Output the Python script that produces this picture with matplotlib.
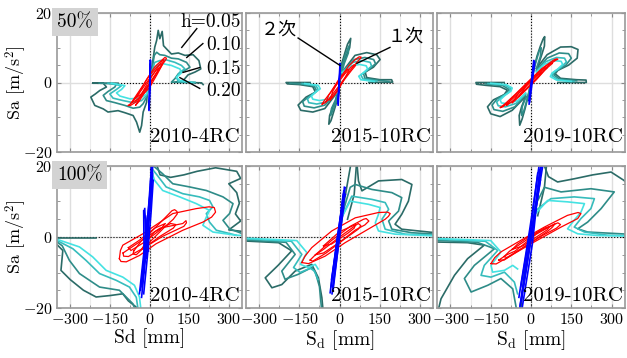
import matplotlib
matplotlib.use("Agg")
import matplotlib.pyplot as plt
from matplotlib.ticker import MultipleLocator

plt.rcParams['font.family'] = ['cmr10', 'Noto Sans CJK JP']
plt.rcParams['mathtext.fontset'] = 'cm'
plt.rcParams['axes.unicode_minus'] = False
plt.rcParams['axes.formatter.use_mathtext'] = True

# ---- data (Sd [mm], Sa [m/s2]) ----
years = ['2010-4RC', '2015-10RC', '2019-10RC']
levels = ['50%', '100%']
h_labels = ['h=0.05', '0.10', '0.15', '0.20']
zero_line_extent = [200, 350]   # dotted Sa=0 line, per row

# 50%, 2010-4RC
a1_h05 = [[(0, 0), (10, 4.9), (20, 10.2), (27, 12.1), (33, 15.0), (39, 12.6), (48, 14.7), (53, 10.6), (64, 9.7),
           (83, 8.2), (109, 8.5), (134, 7.8), (165, 8.0), (187, 6.3), (194, 3.9), (172, 3.0), (146, 2.2),
           (128, 0.6), (96, 0.1), (197, -0.1), (203, -0.6)],
          [(0, 0), (-8, -2.8), (-11, -5.7), (-24, -8.5), (-30, -12.4), (-37, -14.3), (-49, -11.4), (-62, -9.5),
           (-93, -8.7), (-119, -8.1), (-157, -8.5), (-175, -7.6), (-207, -6.6), (-222, -4.2), (-205, -3.3),
           (-188, -2.3), (-163, -1.3), (-175, -0.2), (-215, -0.2), (-119, -0.2)]]
a1_h10 = [[(0, 0), (10, 3.9), (18, 7.8), (27, 8.7), (39, 8.0), (58, 7.8), (83, 7.0), (109, 6.8), (140, 5.8),
           (153, 4.4), (134, 3.5), (109, 2.5), (96, 1.1), (83, 0.1), (172, 0.0)],
          [(0, 0), (-11, -4.2), (-24, -6.1), (-37, -7.1), (-62, -7.4), (-93, -6.6), (-131, -5.8), (-163, -5.2),
           (-175, -3.7), (-157, -2.6), (-131, -1.3), (-125, -0.4), (-190, -0.2)]]
a1_h15 = [[(0, 0), (10, 3.5), (20, 5.8), (39, 6.3), (64, 6.5), (96, 5.8), (121, 4.9), (134, 3.9), (115, 3.0),
           (102, 1.5), (109, 0.3), (172, 0.0)],
          [(0, 0), (-11, -3.7), (-30, -5.2), (-62, -5.8), (-100, -5.2), (-138, -4.5), (-150, -3.3), (-125, -2.0),
           (-106, -0.9), (-157, -0.2)]]
a1_h20 = [[(0, 0), (10, 3.0), (27, 4.9), (52, 5.4), (83, 4.9), (115, 3.9), (121, 2.8), (102, 1.5), (115, 0.6),
           (160, 0.0)],
          [(0, 0), (-11, -3.3), (-37, -4.5), (-74, -4.7), (-112, -3.9), (-125, -3.0), (-106, -2.0), (-93, -0.9),
           (-144, -0.2)]]
a1_red = [[(-80, -6.6), (-72, -6.6), (-55, -5.8), (-30, -3.5), (0, -0.5), (30, 3), (50, 5.3), (62, 6.6),
           (64, 7.0), (58, 7.2), (45, 6.3), (20, 4.5), (-10, 1), (-40, -3), (-62, -5.3), (-76, -6.4), (-80, -6.6)],
          [(-68, -5.8), (-55, -5.3), (-35, -4.3), (0, -1.5), (30, 2.5), (44, 4.5), (48, 5.1), (42, 5.4), (30, 4.6),
           (0, 2), (-35, -2), (-58, -4.6), (-68, -5.8)],
          [(-52, -6.5), (-40, -5.5), (-20, -3.0), (10, 0.5), (40, 4.5), (52, 6.0), (55, 6.6), (48, 6.3),
           (30, 4.2), (0, 0.8), (-30, -3.3), (-46, -5.6), (-52, -6.5)],
          [(-60, -5.0), (-30, -3.2), (0, -0.2), (30, 3.2), (38, 4.3), (25, 3.5), (-5, 0.6), (-40, -3.2), (-60, -5.0)]]
a1_blue = [[(-2, -8.0), (4, 6.0), (3, 6.5), (-1, -7.5)]]

# 50%, 2015-10RC
a2_h05 = [[(0, 0), (8, 5.4), (20, 8.5), (30, 11), (42, 12.7), (38, 10), (27, 8), (14, 5.9), (5, 2)],
          [(10, 3), (58, 7.8), (102, 8.6), (139, 8.0), (152, 6.6), (127, 4.4), (96, 3.0), (102, 1.4), (152, 0.8),
           (195, 0.8), (199, 0.1), (110, 0.0)],
          [(0, 0), (-8, -5), (-20, -8), (-32, -11), (-40, -12), (-37, -9.5), (-25, -7), (-12, -5), (-5, -2)],
          [(-10, -3), (-55, -7.5), (-100, -8.5), (-145, -8), (-155, -6.5), (-125, -4.2), (-90, -2.8), (-100, -1.2),
           (-150, -0.6), (-195, -0.4), (-200, 0), (-110, 0)]]
a2_h10 = [[(0, 0), (8, 4.5), (22, 8), (35, 10.5), (33, 8.5), (18, 5.5), (5, 2)],
          [(10, 3), (55, 6.6), (95, 7.2), (128, 6.6), (135, 5.4), (110, 3.8), (90, 2.6), (95, 1.2), (150, 0.6),
           (185, 0.3)],
          [(0, 0), (-8, -4.5), (-22, -7.5), (-33, -9.5), (-30, -7.5), (-15, -5), (-5, -2)],
          [(-10, -3), (-55, -6.5), (-95, -7.3), (-132, -6.8), (-138, -5.5), (-110, -3.8), (-85, -2.5),
           (-95, -1.0), (-150, -0.4), (-185, -0.2)]]
a2_h15 = [[(10, 3), (50, 5.8), (85, 6.3), (115, 5.8), (120, 4.7), (98, 3.2), (80, 2.2), (88, 1.0), (140, 0.4)],
          [(-10, -3), (-50, -5.6), (-85, -6.2), (-115, -5.8), (-120, -4.7), (-97, -3.2), (-80, -2.0), (-88, -0.9),
           (-140, -0.3)]]
a2_h20 = [[(10, 2.8), (45, 4.8), (75, 5.2), (100, 4.8), (105, 3.9), (88, 2.7), (72, 1.8), (80, 0.8), (130, 0.3)],
          [(-10, -2.8), (-45, -4.8), (-75, -5.2), (-100, -4.8), (-105, -3.9), (-88, -2.7), (-72, -1.8),
           (-80, -0.8), (-130, -0.3)]]
a2_red = [[(-65, -6.2), (-55, -5.9), (-40, -4.8), (0, -0.8), (40, 3.5), (65, 5.8), (78, 6.9), (81, 7.3),
           (74, 7.4), (62, 6.8), (35, 4.8), (0, 1.2), (-35, -3.0), (-55, -5.0), (-65, -6.2)],
          [(-50, -5.5), (-38, -4.8), (-20, -3.5), (15, 0.5), (45, 3.5), (56, 4.5), (60, 4.9), (54, 5.1), (42, 4.3),
           (20, 2.5), (-15, -1.0), (-40, -3.6), (-50, -5.5)],
          [(-35, -5.0), (-25, -4.2), (-10, -2.8), (20, 1.2), (32, 3.0), (35, 3.8), (28, 3.7), (18, 2.6), (0, 1.0),
           (-25, -2.5), (-35, -5.0)]]
a2_blue = [[(-5, -6.5), (3, 5.2), (2, 5.5), (-6, -6.0)]]

# 50%, 2019-10RC
a3_h05 = [[(0, 0), (8, 3), (22, 7.5), (35, 10.5), (45, 12.5), (51, 13.2), (50, 10.5), (40, 8), (25, 4.5)],
          [(20, 4), (60, 8), (110, 10.2), (150, 10.3), (175, 9.5), (172, 7.0), (140, 5.0), (100, 3.5), (90, 2.5),
           (110, 1.2), (170, 0.8), (205, 0.7), (206, 0.0), (100, 0)],
          [(0, 0), (-8, -3), (-22, -7.5), (-33, -10.5), (-42, -12.3), (-44, -9.5), (-35, -7), (-20, -4)],
          [(-20, -4), (-70, -8), (-115, -9.8), (-150, -9.0), (-162, -7.0), (-140, -5), (-100, -3.5), (-88, -2.2),
           (-115, -1.2), (-170, -0.8), (-203, -0.5), (-205, 0), (-100, 0)]]
a3_h10 = [[(0, 0), (15, 5), (30, 9), (38, 10), (35, 7.5), (20, 4)],
          [(20, 3.5), (60, 7), (105, 8.5), (140, 8.3), (150, 7.0), (130, 5), (95, 3.3), (85, 2.2), (105, 1.0),
           (170, 0.5)],
          [(0, 0), (-15, -5), (-28, -8.5), (-35, -9.5), (-33, -7), (-18, -4)],
          [(-20, -3.5), (-60, -7), (-105, -8.3), (-138, -7.8), (-145, -6.5), (-125, -4.6), (-92, -3.2),
           (-82, -2.0), (-105, -0.9), (-170, -0.4)]]
a3_h15 = [[(20, 3.2), (55, 6), (95, 7.2), (125, 7.0), (132, 5.9), (112, 4.4), (85, 3.0), (78, 2.0), (100, 0.8),
           (160, 0.3)],
          [(-20, -3.2), (-55, -6), (-95, -7.0), (-122, -6.7), (-128, -5.6), (-108, -4.1), (-82, -2.8), (-75, -1.8),
           (-98, -0.7), (-160, -0.3)]]
a3_h20 = [[(20, 3), (50, 5.2), (85, 6.3), (112, 6.1), (118, 5.2), (100, 3.9), (78, 2.7), (72, 1.7), (95, 0.7),
           (150, 0.3)],
          [(-20, -3), (-50, -5.2), (-85, -6.1), (-110, -5.9), (-115, -5.0), (-97, -3.7), (-75, -2.5), (-70, -1.6),
           (-92, -0.6), (-150, -0.2)]]
a3_red = [[(-114, -7.2), (-105, -7.0), (-80, -5.5), (-30, -2), (20, 1.8), (70, 5.2), (92, 6.4), (100, 6.7),
           (95, 6.8), (85, 6.5), (40, 4), (-10, 0.3), (-60, -3.5), (-95, -6.0), (-114, -7.2)],
          [(-90, -6.5), (-80, -6.0), (-50, -4.2), (0, -0.5), (50, 3.5), (75, 5.2), (80, 5.5), (72, 5.5), (60, 5.0),
           (15, 2), (-35, -1.8), (-75, -4.8), (-90, -6.5)],
          [(-70, -5.8), (-60, -5.2), (-30, -3), (20, 0.8), (52, 3.6), (60, 4.2), (52, 4.2), (40, 3.6), (0, 0.8),
           (-45, -3.0), (-70, -5.8)],
          [(-45, -4.0), (-10, -1.2), (30, 2.0), (40, 2.8), (25, 2.3), (-15, -0.6), (-45, -4.0)]]
a3_blue = [[(-5, -5.6), (14, 5.7), (12, 6.2), (-8, -5.2)], [(-7, -6.2), (10, 6.3)]]

# 100%, 2010-4RC
b1_h05 = [[(20, 22), (40, 17.5), (80, 16.8), (130, 17.5), (180, 18.5), (250, 19.5), (330, 18.5), (345, 16.5),
           (300, 15.0), (330, 12.5), (340, 9.5), (325, 6.5), (345, 4.5), (300, 2.0), (360, 1.5)],
          [(-360, -1.4), (-328, -3.8), (-335, -9.4), (-300, -12), (-250, -15), (-202, -16.9), (-150, -16.5),
           (-101, -16), (-80, -18), (-51, -19.7), (-45, -22)],
          [(-360, -0.3), (-202, -0.3)]]
b1_h10 = [[(15, 20), (50, 17.8), (88, 15), (152, 14.1), (215, 13.1), (278, 11.3), (316, 9.4), (303, 6.6),
           (278, 4.7), (303, 2.3), (353, 0.9)],
          [(-360, -0.8), (-330, -2.5), (-303, -6.6), (-265, -10.3), (-189, -14.1), (-114, -15), (-63, -18.8),
           (-45, -22)]]
b1_h15 = [[(12, 19), (25, 17.8), (63, 14.1), (126, 12.2), (189, 11.3), (227, 10.3), (240, 8.5), (215, 6.6),
           (227, 4.2), (253, 1.9), (328, 0.5)],
          [(-360, -0.6), (-290, -3.3), (-240, -6.6), (-189, -10.3), (-126, -12.2), (-76, -14.1), (-50, -17),
           (-40, -22)]]
b1_h20 = [[(10, 18), (19, 16), (50, 13.1), (114, 11.3), (177, 9.4), (227, 7.5), (215, 5.6), (202, 3.3),
           (240, 1.4), (328, 0.5), (360, 0.4)],
          [(-360, -0.4), (-265, -2.8), (-215, -5.6), (-164, -9.4), (-101, -11.3), (-57, -13.6), (-38, -16.9),
           (-30, -22)]]
b1_red = [[(-114, -6.1), (-110, -3.8), (-101, -2.3), (-25, 0.9), (88, 6.6), (177, 8.0), (225, 8.5), (245, 8.3),
           (250, 7.0), (235, 5.6), (202, 4.2), (126, 1.9), (25, -1.9), (-38, -5.2), (-88, -7.0), (-108, -6.9),
           (-114, -6.1)],
          [(-60, -4.0), (-30, -1.0), (0, 1.0), (60, 5.5), (85, 7.4), (95, 7.7), (104, 7.2), (105, 6.5), (90, 5.0),
           (60, 3), (0, -1.5), (-50, -5.0), (-62, -4.8), (-60, -4.0)],
          [(-100, -4.5), (-70, -3.0), (-40, -1.5), (40, 2.5), (126, 3.8), (138, 4.6), (140, 4.0), (130, 3.0),
           (50, 0.2), (-20, -3), (-80, -5.5), (-98, -5.4), (-100, -4.5)],
          [(-30, -3.5), (-10, -1.0), (20, 1.5), (80, 3.8), (100, 3.5), (90, 2.5), (40, 0.2), (0, -2.0),
           (-30, -3.5)],
          [(-80, -3.0), (-40, -1.0), (20, 2.5), (60, 3.8), (40, 2.0), (-20, -1.5), (-70, -3.8), (-80, -3.0)]]
b1_blue = [[(-38, -16), (-15, 0), (2, 12), (15, 22)], [(-30, -17), (-10, -2), (5, 10), (10, 22)],
           [(-25, -12), (-8, 2), (8, 14), (12, 18)], [(-20, -10), (-22, 7.5), (-14, 5), (-12, -3)],
           [(-28, -14), (-5, 4), (0, 10), (8, 21)], [(-34, -15), (-18, -4), (-6, 6), (4, 16), (12, 22)],
           [(-22, -16), (-6, -4), (6, 7), (14, 16)], [(-18, 8), (-12, -6), (-8, 6), (-4, -4)]]

# 100%, 2015-10RC
b2_h05 = [[(0, 0), (20, 11), (46, 22)], [(65, 22), (55, 12), (30, 5)],
          [(65, 21), (71, 15.8), (84, 13), (146, 15.8), (233, 16.2), (271, 14.8), (258, 10.1), (233, 6.4),
           (208, 3.6), (233, 2.2), (296, 1.7), (360, 1.2)],
          [(-360, -1.1), (-228, -1.6), (-179, -3.9), (-230, -8), (-278, -11.5), (-253, -14.3), (-216, -13.4),
           (-166, -9.6), (-104, -7.7), (-79, -11.5), (-66, -17.1), (-60, -22)]]
b2_h10 = [[(5, 5), (40, 14), (59, 14.8), (121, 13.4), (196, 12.5), (233, 11.1), (221, 7.3), (184, 4.5),
           (196, 2.2), (271, 1.2), (360, 0.8)],
          [(-360, -0.8), (-200, -1.5), (-166, -4.9), (-216, -9.6), (-204, -11.9), (-154, -10.5), (-104, -8.6),
           (-90, -10), (-75, -14), (-65, -22)]]
b2_h15 = [[(5, 5), (46, 11.5), (121, 10.6), (171, 9.7), (184, 7.8), (159, 5.0), (171, 2.2), (246, 0.8),
           (360, 0.5)],
          [(-360, -0.5), (-180, -1.2), (-141, -4.9), (-172, -8.6), (-147, -10), (-110, -8.8), (-95, -9.5),
           (-80, -12)]]
b2_h20 = [[(5, 5), (40, 10.1), (109, 9.2), (152, 8.3), (146, 6.4), (134, 4.0), (146, 1.7), (208, 0.8),
           (360, 0.3)],
          [(-360, -0.3), (-160, -1), (-122, -4.4), (-147, -7.7), (-116, -8.6), (-91, -7.7), (-80, -9)]]
b2_red = [[(-141, -7.2), (-130, -5.5), (-104, -3.0), (-29, 1.7), (59, 5.4), (146, 6.9), (180, 7.0), (190, 6.6),
           (183, 5.8), (171, 5.0), (96, 1.7), (21, -1.6), (-54, -5.4), (-116, -7.5), (-141, -7.2)],
          [(-90, -5), (-60, -3), (-30, -1), (40, 3), (90, 5.0), (100, 5.2), (110, 4.5), (95, 3.4), (60, 2),
           (0, -1.5), (-60, -4.5), (-90, -5)],
          [(-110, -6.5), (-90, -5.0), (-60, -3.5), (0, 0), (70, 3.8), (80, 3.2), (70, 2.2), (20, -0.5),
           (-50, -4.5), (-100, -6.8), (-110, -6.5)],
          [(-60, -2.5), (-30, -0.5), (0, 1.5), (60, 3.5), (55, 2.5), (30, 1.0), (-30, -2.0), (-60, -2.5)]]
b2_blue = [[(-35, -15.7), (-10, -1), (10, 9), (21, 13.9)], [(-28, -16), (-5, -3), (15, 8), (18, 14)],
           [(-30, -12), (0, 3), (14, 12)], [(-25, -14), (5, 6), (20, 12)],
           [(-32, -14), (-14, -4), (4, 6), (16, 13)], [(-24, -15), (-2, -1), (12, 10), (22, 12)]]

# 100%, 2019-10RC
b3_h05 = [[(0, 0), (20, 10), (40, 22)], [(60, 22), (50, 14), (25, 6)],
          [(40, 22), (65, 17), (99, 15.5), (161, 16.4), (230, 17.5), (298, 18.3), (345, 16), (360, 15)],
          [(-360, -1.4), (-236, -1.6), (-174, -2.3), (-236, -6.1), (-285, -10.8), (-335, -17.4), (-350, -22)],
          [(-40, -22), (-25, -10), (0, 0)]]
b3_h10 = [[(10, 8), (50, 14), (112, 12.7), (223, 13.6), (310, 12.7), (261, 8.0), (211, 4.2), (174, 2.3),
           (211, 1.4), (335, 0.9), (360, 0.8)],
          [(-360, -0.9), (-200, -1.5), (-136, -3.3), (-211, -8.0), (-248, -11.7), (-223, -15.5), (-161, -13.6),
           (-112, -11.7), (-68, -14.6), (-50, -22)]]
b3_h15 = [[(10, 7), (74, 10.8), (161, 11.3), (236, 10.8), (223, 8.0), (186, 5.2), (161, 2.8), (199, 1.4),
           (285, 0.5), (360, 0.4)],
          [(-360, -0.6), (-170, -1.2), (-124, -3.8), (-174, -8.0), (-186, -10.8), (-149, -11.3), (-99, -9.9),
           (-62, -12.7), (-50, -16)]]
b3_h20 = [[(10, 6), (62, 10.3), (136, 9.9), (199, 9.4), (186, 7.0), (155, 4.2), (136, 2.3), (174, 0.9),
           (250, 0.4), (360, 0.3)],
          [(-360, -0.4), (-150, -1), (-112, -4.2), (-149, -8.0), (-143, -9.9), (-99, -9.4), (-68, -8.0),
           (-50, -9)]]
b3_red = [[(-149, -7.5), (-135, -5.8), (-112, -4.2), (-37, -0.9), (50, 2.8), (136, 6.1), (175, 6.9), (186, 6.6),
           (180, 5.9), (174, 5.2), (112, 2.8), (12, -1.4), (-74, -5.2), (-130, -7.6), (-149, -7.5)],
          [(-100, -5.5), (-80, -4.0), (-40, -2), (30, 1.5), (100, 4), (110, 3.5), (95, 2.5), (40, 0.3), (-30, -3),
           (-90, -5.8), (-100, -5.5)],
          [(-70, -3.5), (-50, -2.0), (-20, -0.5), (50, 2.5), (70, 3.0), (60, 2.0), (30, 0.5), (-30, -2.5),
           (-70, -3.5)],
          [(-120, -6.5), (-90, -5.0), (-60, -4), (20, 0.8), (90, 3.8), (80, 2.8), (60, 1.5), (-20, -2.5),
           (-100, -6.5), (-120, -6.5)]]
b3_blue = [[(-40, -19.2), (0, 0), (43, 19.7)], [(-33, -20), (5, -2), (38, 21)], [(-45, -17), (-5, 2), (30, 20)],
           [(-30, -15), (10, 4), (35, 16)], [(-38, -14), (0, 3), (25, 18)],
           [(-36, -18), (-10, -5), (20, 9), (40, 21)], [(-42, -20), (-15, -6), (15, 8), (33, 19)]]

panels = [
    [(a1_h05, a1_h10, a1_h15, a1_h20, a1_red, a1_blue),
     (a2_h05, a2_h10, a2_h15, a2_h20, a2_red, a2_blue),
     (a3_h05, a3_h10, a3_h15, a3_h20, a3_red, a3_blue)],
    [(b1_h05, b1_h10, b1_h15, b1_h20, b1_red, b1_blue),
     (b2_h05, b2_h10, b2_h15, b2_h20, b2_red, b2_blue),
     (b3_h05, b3_h10, b3_h15, b3_h20, b3_red, b3_blue)],
]

h_colors = ['#2b6b67', '#2e8c88', '#36bcbc', '#45e2e2']


def draw(ax, segs, color, lw):
    for s in segs:
        xs = [p[0] for p in s]
        ys = [p[1] for p in s]
        ax.plot(xs, ys, color=color, lw=lw, solid_joinstyle='round')


fig = plt.figure(figsize=(6.27, 3.58), dpi=100)

col_left = [57, 246, 437]
col_right = [242, 433, 625]
row_top = [13, 166]
row_bot = [152, 308]
W, H = 627.0, 358.0

axes = []
for r in range(2):
    row = []
    for c in range(3):
        ax = fig.add_axes([col_left[c] / W, 1 - row_bot[r] / H,
                           (col_right[c] - col_left[c]) / W, (row_bot[r] - row_top[r]) / H])
        ax.set_xlim(-350, 350)
        ax.set_ylim(-20, 20)
        ax.xaxis.set_major_locator(MultipleLocator(150))
        ax.xaxis.set_minor_locator(MultipleLocator(75))
        ax.yaxis.set_major_locator(MultipleLocator(20))
        ax.yaxis.set_minor_locator(MultipleLocator(5))
        ax.grid(which='major', color='#dedede', lw=1.0)
        ax.grid(which='minor', axis='x', color='#ececec', lw=0.8)
        ax.set_axisbelow(True)
        ax.tick_params(which='both', direction='in', top=True, right=True, color='#888888', labelsize=11.5, pad=3)
        ax.tick_params(which='major', length=3)
        ax.tick_params(which='minor', length=2)
        for sp in ax.spines.values():
            sp.set_color('#999999')
            sp.set_linewidth(1.2)

        ext = zero_line_extent[r]
        ax.plot([-ext, ext], [0, 0], color='k', ls=':', lw=0.8, zorder=1.5)
        ax.axvline(0, color='k', ls=':', lw=0.8, zorder=1.5)

        curves = panels[r][c]
        for k in range(4):
            draw(ax, curves[k], h_colors[k], 1.2)
        draw(ax, curves[4], 'red', 0.9)
        draw(ax, curves[5], 'blue', 1.2)

        ax.text(343, -15.8 if r == 0 else -16.6, years[c], ha='right', va='center', fontsize=15)

        if c == 0:
            ax.set_ylabel('Sa [m/s$^2$]', fontsize=13)
            ax.yaxis.set_label_coords(-0.15, 0.5)
            ax.text(0.0, 1.0, levels[r], transform=ax.transAxes, ha='left', va='top', fontsize=14,
                    bbox=dict(boxstyle='square,pad=0.25', fc='#d3d3d3', ec='none'))
        else:
            ax.set_yticklabels([])
        if r == 0:
            ax.set_xticklabels([])
        else:
            ax.set_xlabel('Sd [mm]' if c == 0 else r'S$_\mathrm{d}$ [mm]', fontsize=14, labelpad=1)
        row.append(ax)
    axes.append(row)

# h labels with leader lines (top-left panel)
ax = axes[0][0]
h_text_y = [17.4, 10.8, 3.9, -2.4]
h_lead = [[(179, 15.5), (122, 10.1)], [(202, 11.2), (141, 7.2)], [(190, 4.3), (127, 2.9)], [(190, -1.7), (115, 1.4)]]
for lab, ty, ld in zip(h_labels, h_text_y, h_lead):
    ax.text(347, ty, lab, ha='right', va='center', fontsize=14)
    ax.plot([ld[0][0], ld[1][0]], [ld[0][1], ld[1][1]], color='k', lw=1.0)

# mode labels (top-middle panel)
ax = axes[0][1]
ax.text(-227, 15.2, '２次', ha='center', va='center', fontsize=13, family=['Noto Sans CJK JP'])
ax.plot([-155, 2], [12.8, 4.9], color='k', lw=1.0)
ax.text(249, 13.3, '１次', ha='center', va='center', fontsize=13, family=['Noto Sans CJK JP'])
ax.plot([189, 65], [10.1, 5.5], color='k', lw=1.0)

fig.savefig('out.png', dpi=100)
